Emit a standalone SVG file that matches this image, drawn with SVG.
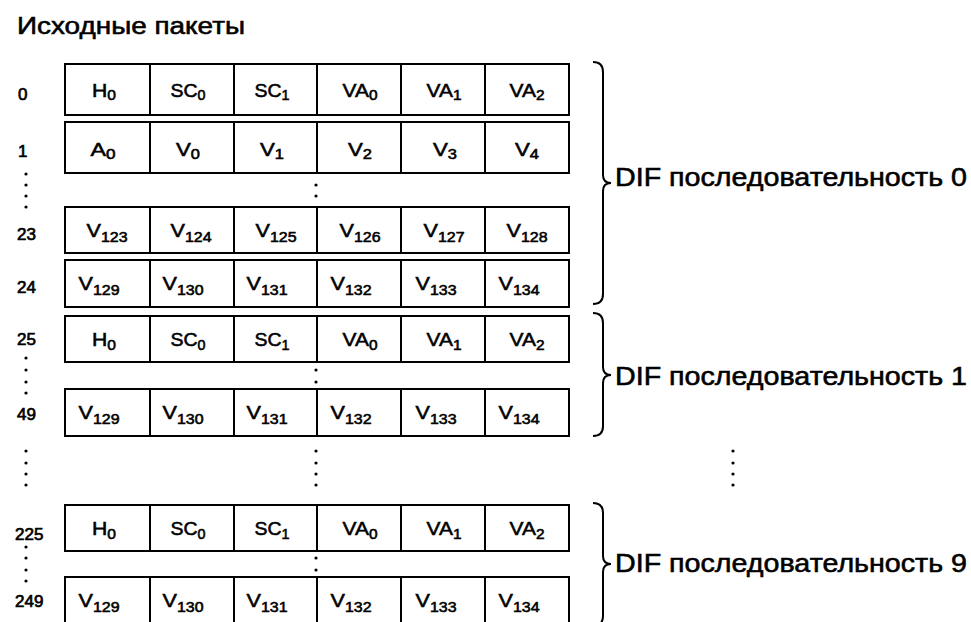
<svg xmlns="http://www.w3.org/2000/svg" width="971" height="622" viewBox="0 0 971 622">
<style>
text{font-family:"Liberation Sans",Arial,sans-serif;fill:#000;stroke:#000;stroke-width:0.55px}
.t{font-size:23px}
.lbl{font-size:17px;stroke-width:0.7px}
.c{font-size:19px;text-anchor:middle}
.s{font-size:14px}
.big{font-size:25px}
.cell{fill:#fff;stroke:#000;stroke-width:2}
.ln{stroke:#000;stroke-width:2;fill:none}
.br{fill:none;stroke:#000;stroke-width:2}
.d{fill:#000}
</style>
<defs>
<g id="rowA">
<rect class="cell" x="65" y="0" width="504" height="46"/>
<path class="ln" d="M150,0V46M234,0V46M317,0V46M401,0V46M485,0V46"/>
<text class="c" x="104" y="30" textLength="24" lengthAdjust="spacingAndGlyphs">H<tspan class="s" dy="4">0</tspan></text>
<text class="c" x="188" y="30" textLength="35" lengthAdjust="spacingAndGlyphs">SC<tspan class="s" dy="4">0</tspan></text>
<text class="c" x="272" y="30" textLength="35" lengthAdjust="spacingAndGlyphs">SC<tspan class="s" dy="4">1</tspan></text>
<text class="c" x="360" y="30" textLength="35" lengthAdjust="spacingAndGlyphs">VA<tspan class="s" dy="4">0</tspan></text>
<text class="c" x="444" y="30" textLength="35" lengthAdjust="spacingAndGlyphs">VA<tspan class="s" dy="4">1</tspan></text>
<text class="c" x="527" y="30" textLength="35" lengthAdjust="spacingAndGlyphs">VA<tspan class="s" dy="4">2</tspan></text>
</g>
<g id="rowZ">
<rect class="cell" x="65" y="0" width="504" height="47"/>
<path class="ln" d="M150,0V47M234,0V47M317,0V47M401,0V47M485,0V47"/>
<text class="c" x="99" y="30" textLength="41" lengthAdjust="spacingAndGlyphs">V<tspan class="s" dy="5">129</tspan></text>
<text class="c" x="183" y="30" textLength="41" lengthAdjust="spacingAndGlyphs">V<tspan class="s" dy="5">130</tspan></text>
<text class="c" x="267" y="30" textLength="41" lengthAdjust="spacingAndGlyphs">V<tspan class="s" dy="5">131</tspan></text>
<text class="c" x="351" y="30" textLength="41" lengthAdjust="spacingAndGlyphs">V<tspan class="s" dy="5">132</tspan></text>
<text class="c" x="436" y="30" textLength="41" lengthAdjust="spacingAndGlyphs">V<tspan class="s" dy="5">133</tspan></text>
<text class="c" x="519" y="30" textLength="41" lengthAdjust="spacingAndGlyphs">V<tspan class="s" dy="5">134</tspan></text>
</g>
</defs>
<text class="t" x="17" y="34" textLength="228" lengthAdjust="spacingAndGlyphs">Исходные пакеты</text>

<g id="row0">
<rect class="cell" x="65" y="64" width="504" height="51"/>
<path class="ln" d="M150,64V115M234,64V115M317,64V115M401,64V115M485,64V115"/>
<text class="lbl" x="18" y="100">0</text>
<text class="c" x="104" y="97" textLength="24" lengthAdjust="spacingAndGlyphs">H<tspan class="s" dy="3">0</tspan></text>
<text class="c" x="188" y="97" textLength="35" lengthAdjust="spacingAndGlyphs">SC<tspan class="s" dy="3">0</tspan></text>
<text class="c" x="272" y="97" textLength="35" lengthAdjust="spacingAndGlyphs">SC<tspan class="s" dy="3">1</tspan></text>
<text class="c" x="360" y="97" textLength="35" lengthAdjust="spacingAndGlyphs">VA<tspan class="s" dy="3">0</tspan></text>
<text class="c" x="444" y="97" textLength="35" lengthAdjust="spacingAndGlyphs">VA<tspan class="s" dy="3">1</tspan></text>
<text class="c" x="527" y="97" textLength="35" lengthAdjust="spacingAndGlyphs">VA<tspan class="s" dy="3">2</tspan></text>
</g>
<g id="row1">
<rect class="cell" x="65" y="122" width="504" height="51"/>
<path class="ln" d="M150,122V173M234,122V173M317,122V173M401,122V173M485,122V173"/>
<text class="lbl" x="18" y="157">1</text>
<text class="c" x="103" y="156" textLength="25" lengthAdjust="spacingAndGlyphs">A<tspan class="s" dy="3">0</tspan></text>
<text class="c" x="188" y="156" textLength="24" lengthAdjust="spacingAndGlyphs">V<tspan class="s" dy="3">0</tspan></text>
<text class="c" x="272" y="156" textLength="24" lengthAdjust="spacingAndGlyphs">V<tspan class="s" dy="3">1</tspan></text>
<text class="c" x="360" y="156" textLength="24" lengthAdjust="spacingAndGlyphs">V<tspan class="s" dy="3">2</tspan></text>
<text class="c" x="445" y="156" textLength="24" lengthAdjust="spacingAndGlyphs">V<tspan class="s" dy="3">3</tspan></text>
<text class="c" x="527" y="156" textLength="24" lengthAdjust="spacingAndGlyphs">V<tspan class="s" dy="3">4</tspan></text>
</g>
<g id="row23">
<rect class="cell" x="65" y="207" width="504" height="46"/>
<path class="ln" d="M150,207V253M234,207V253M317,207V253M401,207V253M485,207V253"/>
<text class="lbl" x="17" y="240">23</text>
<text class="c" x="107" y="237" textLength="41" lengthAdjust="spacingAndGlyphs">V<tspan class="s" dy="5">123</tspan></text>
<text class="c" x="191" y="237" textLength="41" lengthAdjust="spacingAndGlyphs">V<tspan class="s" dy="5">124</tspan></text>
<text class="c" x="276" y="237" textLength="41" lengthAdjust="spacingAndGlyphs">V<tspan class="s" dy="5">125</tspan></text>
<text class="c" x="360" y="237" textLength="41" lengthAdjust="spacingAndGlyphs">V<tspan class="s" dy="5">126</tspan></text>
<text class="c" x="444" y="237" textLength="41" lengthAdjust="spacingAndGlyphs">V<tspan class="s" dy="5">127</tspan></text>
<text class="c" x="527" y="237" textLength="41" lengthAdjust="spacingAndGlyphs">V<tspan class="s" dy="5">128</tspan></text>
</g>
<g id="row24">
<text class="lbl" x="17" y="293">24</text>
<use href="#rowZ" y="260"/>
</g>
<g id="row25">
<text class="lbl" x="17" y="345">25</text>
<use href="#rowA" y="316"/>
</g>
<g id="row49">
<text class="lbl" x="17" y="420">49</text>
<use href="#rowZ" y="389"/>
</g>
<g id="row225">
<text class="lbl" x="15" y="540">225</text>
<use href="#rowA" y="505"/>
</g>
<g id="row249">
<text class="lbl" x="15" y="607">249</text>
<use href="#rowZ" y="577"/>
</g>

<g id="dots">
<circle class="d" cx="26" cy="174" r="1.6"/><circle class="d" cx="26" cy="185" r="1.6"/><circle class="d" cx="26" cy="196" r="1.6"/><circle class="d" cx="26" cy="207" r="1.6"/>
<circle class="d" cx="316" cy="185" r="1.6"/><circle class="d" cx="316" cy="196" r="1.6"/>
<circle class="d" cx="26" cy="358" r="1.6"/><circle class="d" cx="26" cy="370" r="1.6"/><circle class="d" cx="26" cy="382" r="1.6"/><circle class="d" cx="26" cy="393" r="1.6"/>
<circle class="d" cx="316" cy="370" r="1.6"/><circle class="d" cx="316" cy="382" r="1.6"/>
<circle class="d" cx="26" cy="451" r="1.6"/><circle class="d" cx="26" cy="463" r="1.6"/><circle class="d" cx="26" cy="474" r="1.6"/><circle class="d" cx="26" cy="485" r="1.6"/>
<circle class="d" cx="316" cy="451" r="1.6"/><circle class="d" cx="316" cy="463" r="1.6"/><circle class="d" cx="316" cy="474" r="1.6"/><circle class="d" cx="316" cy="485" r="1.6"/>
<circle class="d" cx="733" cy="451" r="1.6"/><circle class="d" cx="733" cy="463" r="1.6"/><circle class="d" cx="733" cy="474" r="1.6"/><circle class="d" cx="733" cy="485" r="1.6"/>
<circle class="d" cx="26" cy="547" r="1.6"/><circle class="d" cx="26" cy="558" r="1.6"/><circle class="d" cx="26" cy="570" r="1.6"/><circle class="d" cx="26" cy="581" r="1.6"/>
<circle class="d" cx="316" cy="558" r="1.6"/><circle class="d" cx="316" cy="570" r="1.6"/>
</g>

<g id="connectors">
<path class="br" d="M593,62Q603,62 603,72L603,175Q603,183 611,183Q603,183 603,191L603,294Q603,304 593,304"/>
<path class="br" d="M593,313Q603,313 603,323L603,367Q603,375 611,375Q603,375 603,383L603,426Q603,436 593,436"/>
<path class="br" d="M593,503Q603,503 603,513L603,556Q603,564 611,564Q603,564 603,572L603,616Q603,626 593,626"/>
</g>
<g id="seq0"><text class="big" x="615" y="186" textLength="352" lengthAdjust="spacingAndGlyphs">DIF последовательность 0</text></g>
<g id="seq1"><text class="big" x="615" y="385" textLength="352" lengthAdjust="spacingAndGlyphs">DIF последовательность 1</text></g>
<g id="seq9"><text class="big" x="615" y="572" textLength="352" lengthAdjust="spacingAndGlyphs">DIF последовательность 9</text></g>
</svg>
